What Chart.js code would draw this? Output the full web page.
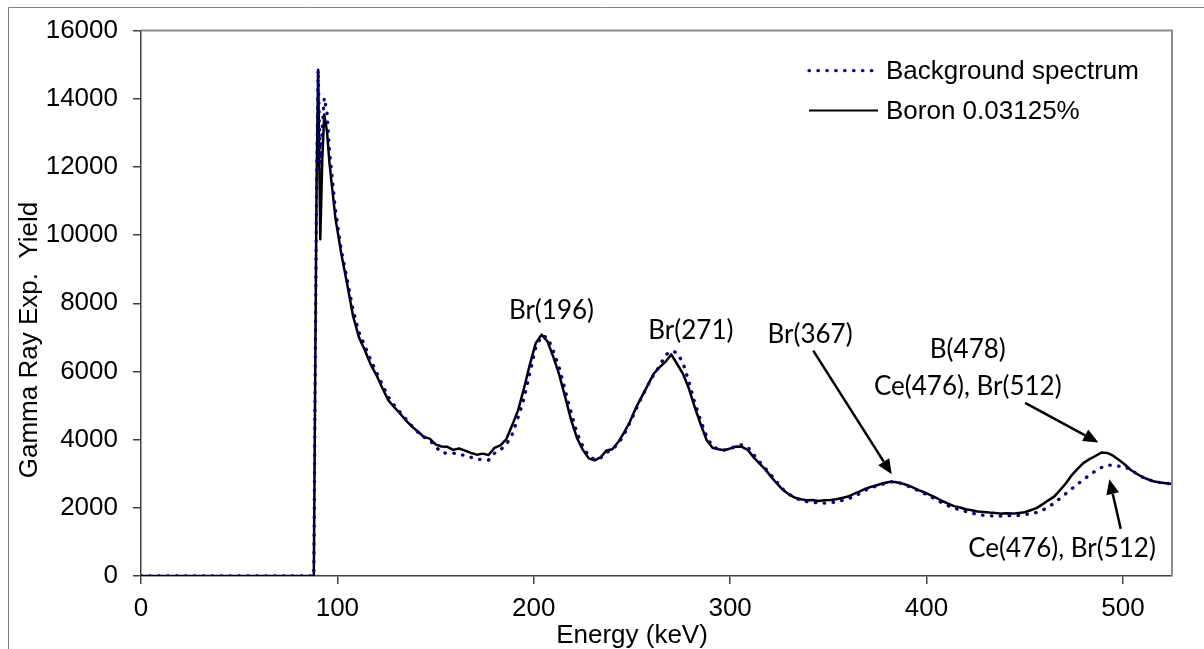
<!DOCTYPE html>
<html>
<head>
<meta charset="utf-8">
<title>Gamma ray spectrum</title>
<script src="https://cdn.jsdelivr.net/npm/chart.js@4.4.1/dist/chart.umd.min.js"></script>
<style>
  html, body { margin: 0; padding: 0; background: #fff; }
  canvas { display: block; }
</style>
</head>
<body>
<canvas id="spectrum" width="1204" height="649"></canvas>
<script>
// energy (keV) of each channel
const energy = [
  0, 20, 40, 60, 80, 88, 88.6, 89.4, 90.2, 91.3, 92.3, 93.3, 94.7,
  96, 99, 102, 105, 108, 111, 114, 117, 120, 123,
  126, 129, 132, 135, 138, 141, 144, 147, 150, 153,
  156, 159, 162, 165, 168, 171, 174, 177, 180, 183,
  186, 189, 192, 195, 198, 201, 204, 207, 210, 213,
  216, 219, 222, 225, 228, 231, 234, 237, 240, 243,
  246, 249, 252, 255, 258, 261, 264, 267, 270, 273,
  276, 279, 282, 285, 288, 291, 294, 297, 300, 303,
  306, 309, 312, 315, 318, 321, 324, 327, 330, 333,
  336, 339, 342, 345, 348, 351, 354, 357, 360, 363,
  366, 369, 372, 375, 378, 381, 384, 387, 390, 393,
  396, 399, 402, 405, 408, 411, 414, 417, 420, 423,
  426, 429, 432, 435, 438, 441, 444, 447, 450, 453,
  456, 459, 462, 465, 468, 471, 474, 477, 480, 483,
  486, 489, 492, 495, 498, 501, 504, 507, 510, 513,
  516, 519, 522, 525
];

const background = [
  0, 0, 0, 0, 0, 0, 5000, 11500, 14850, 12100, 13100, 14030, 13600,
  12450, 10750, 9550, 8700, 7800, 7150, 6750, 6330, 5970, 5600,
  5250, 5010, 4800, 4600, 4400, 4220, 4080, 3980, 3800, 3620,
  3600, 3610, 3560, 3540, 3480, 3420, 3420, 3400, 3600, 3700,
  3850, 4150, 4650, 5200, 5950, 6700, 7050, 7000, 6600, 6100,
  5450, 4800, 4200, 3800, 3520, 3420, 3460, 3620, 3720, 3880,
  4150, 4500, 4880, 5250, 5580, 5900, 6150, 6480, 6600, 6550,
  6250, 5700, 5080, 4560, 4100, 3800, 3720, 3700, 3720, 3830,
  3850, 3780, 3560, 3350, 3150, 2950, 2740, 2540, 2400, 2300,
  2220, 2180, 2160, 2150, 2140, 2150, 2170, 2220, 2260, 2340,
  2420, 2520, 2590, 2650, 2700, 2770, 2760, 2720, 2650, 2580,
  2500, 2420, 2330, 2240, 2140, 2060, 1990, 1940, 1890, 1850,
  1800, 1780, 1770, 1760, 1760, 1770, 1770, 1780, 1800, 1830,
  1860, 1930, 2020, 2140, 2280, 2420, 2560, 2700, 2830, 2960,
  3080, 3180, 3250, 3250, 3220, 3200, 3120, 3000, 2900, 2830,
  2770, 2740, 2720, 2700
];

const boron = [
  0, 0, 0, 0, 0, 0, 5000, 11500, 14850, 9880, 12200, 13540, 13050,
  12100, 10500, 9450, 8560, 7620, 7000, 6620, 6200, 5880, 5500,
  5150, 4950, 4760, 4560, 4380, 4240, 4080, 4030, 3860, 3800,
  3790, 3700, 3740, 3680, 3610, 3560, 3590, 3550, 3760, 3830,
  4010, 4420, 4860, 5500, 6200, 6830, 7080, 6880, 6420, 5900,
  5250, 4580, 4050, 3700, 3450, 3390, 3480, 3680, 3720, 3930,
  4210, 4530, 4930, 5260, 5590, 5930, 6120, 6280, 6500, 6220,
  5930, 5500, 4950, 4450, 3990, 3760, 3720, 3690, 3740, 3800,
  3790, 3700, 3480, 3300, 3120, 2900, 2700, 2520, 2390, 2300,
  2250, 2220, 2230, 2200, 2220, 2230, 2250, 2290, 2330, 2410,
  2480, 2560, 2620, 2670, 2720, 2760, 2760, 2720, 2670, 2600,
  2520, 2450, 2370, 2290, 2200, 2120, 2050, 2010, 1960, 1930,
  1890, 1880, 1860, 1850, 1830, 1840, 1830, 1850, 1870, 1930,
  1990, 2100, 2220, 2330, 2520, 2720, 2960, 3150, 3320, 3430,
  3520, 3620, 3610, 3530, 3400, 3270, 3110, 3000, 2900, 2830,
  2770, 2740, 2720, 2700
];

const xTicks = [0, 100, 200, 300, 400, 500];
const yTicks = [0, 2000, 4000, 6000, 8000, 10000, 12000, 14000, 16000];
const seriesNames = ['Background spectrum', 'Boron 0.03125%'];

// peak labels, anchored in data units (keV, counts)
const notes = [
  { text: 'Br(196)', x: 209, y: 7780 },
  { text: 'Br(271)', x: 280, y: 7195 },
  { text: 'Br(367)', x: 340.7, y: 7078 },
  { text: 'B(478)', x: 421, y: 6640 },
  { text: 'Ce(476), Br(512)', x: 421, y: 5557 },
  { text: 'Ce(476), Br(512)', x: 469, y: 790 }
];
const arrows = [
  { from: [342.3, 6610], to: [382.3, 2983] },
  { from: [450.2, 5077], to: [487.5, 3919] },
  { from: [498.9, 1383], to: [493.1, 2840] }
];

const AXIS = '#404040';
const SANS = 'Liberation Sans, Arial, sans-serif';

function drawArrow(ctx, x1, y1, x2, y2) {
  const a = Math.atan2(y2 - y1, x2 - x1);
  const len = 15, half = 6.5;
  const bx = x2 - len * Math.cos(a), by = y2 - len * Math.sin(a);
  ctx.beginPath();
  ctx.moveTo(x1, y1);
  ctx.lineTo(bx, by);
  ctx.stroke();
  ctx.beginPath();
  ctx.moveTo(x2, y2);
  ctx.lineTo(bx + half * Math.sin(a), by - half * Math.cos(a));
  ctx.lineTo(bx - half * Math.sin(a), by + half * Math.cos(a));
  ctx.closePath();
  ctx.fill();
}

const decorations = {
  id: 'decorations',
  afterDraw(chart) {
    const ctx = chart.ctx;
    const area = chart.chartArea;
    const xs = chart.scales.x, ys = chart.scales.y;
    ctx.save();

    // outer frame (only top and left edges are inside the picture)
    ctx.strokeStyle = '#7f7f7f';
    ctx.lineWidth = 1;
    ctx.beginPath();
    ctx.moveTo(8.5, 649);
    ctx.lineTo(8.5, 7.5);
    ctx.lineTo(1204, 7.5);
    ctx.stroke();

    // plot area frame, top and right
    ctx.strokeStyle = '#8c8c8c';
    ctx.lineWidth = 2;
    ctx.beginPath();
    ctx.moveTo(area.left, area.top);
    ctx.lineTo(area.right, area.top);
    ctx.lineTo(area.right, area.bottom);
    ctx.stroke();

    // axis titles
    ctx.fillStyle = '#000';
    ctx.font = '26px ' + SANS;
    ctx.textAlign = 'center';
    ctx.textBaseline = 'alphabetic';
    ctx.fillText('Energy (keV)', 632, 643);
    ctx.save();
    ctx.translate(37, 340);
    ctx.rotate(-Math.PI / 2);
    ctx.fillText('Gamma Ray Exp.  Yield', 0, 0);
    ctx.restore();

    // legend
    const lx = area.left + 668;
    ctx.textAlign = 'left';
    ctx.fillText(seriesNames[0], lx + 77, area.top + 48);
    ctx.fillText(seriesNames[1], lx + 77, area.top + 88);
    ctx.strokeStyle = '#000080';
    ctx.lineWidth = 3.3;
    ctx.lineCap = 'round';
    ctx.setLineDash([0.5, 8.4]);
    ctx.beginPath();
    ctx.moveTo(lx, area.top + 40);
    ctx.lineTo(lx + 66, area.top + 40);
    ctx.stroke();
    ctx.setLineDash([]);
    ctx.lineCap = 'butt';
    ctx.strokeStyle = '#000';
    ctx.lineWidth = 2;
    ctx.beginPath();
    ctx.moveTo(lx, area.top + 80);
    ctx.lineTo(lx + 69, area.top + 80);
    ctx.stroke();

    // peak labels and arrows
    ctx.font = '26px Lato, sans-serif';
    ctx.textAlign = 'center';
    ctx.textBaseline = 'middle';
    notes.forEach(n => {
      ctx.fillText(n.text, xs.getPixelForValue(n.x), ys.getPixelForValue(n.y));
    });
    ctx.fillStyle = '#000';
    ctx.strokeStyle = '#000';
    ctx.lineWidth = 2.5;
    arrows.forEach(a => {
      drawArrow(ctx,
        xs.getPixelForValue(a.from[0]), ys.getPixelForValue(a.from[1]),
        xs.getPixelForValue(a.to[0]), ys.getPixelForValue(a.to[1]));
    });
    ctx.restore();
  }
};

new Chart(document.getElementById('spectrum'), {
  type: 'line',
  data: {
    datasets: [{
      label: seriesNames[0],
      data: energy.map((e, i) => ({ x: e, y: background[i] })),
      borderColor: '#000080',
      borderWidth: 3.3,
      borderDash: [0.5, 8.4],
      borderCapStyle: 'round',
      pointRadius: 0,
      tension: 0
    }, {
      label: seriesNames[1],
      data: energy.map((e, i) => ({ x: e, y: boron[i] })),
      borderColor: '#000',
      borderWidth: 2.5,
      borderJoinStyle: 'round',
      pointRadius: 0,
      tension: 0
    }]
  },
  options: {
    responsive: false,
    animation: false,
    devicePixelRatio: 1,
    layout: { padding: { top: 29, right: 32, left: 0, bottom: 0 } },
    plugins: {
      legend: { display: false },
      tooltip: { enabled: false }
    },
    scales: {
      x: {
        type: 'linear',
        min: 0,
        max: 525,
        afterBuildTicks: s => { s.ticks = xTicks.map(v => ({ value: v })); },
        afterFit: s => { s.height = 73; },
        ticks: {
          color: '#000',
          padding: 9,
          maxRotation: 0,
          font: { family: SANS, size: 26 },
          callback: v => String(v)
        },
        grid: { drawOnChartArea: false, tickLength: 8, color: AXIS, lineWidth: 1.5 },
        border: { color: AXIS, width: 1.5 }
      },
      y: {
        min: 0,
        max: 16000,
        afterBuildTicks: s => { s.ticks = yTicks.map(v => ({ value: v })); },
        afterFit: s => { s.width = 141; },
        ticks: {
          color: '#000',
          padding: 15,
          font: { family: SANS, size: 26 },
          callback: v => String(v)
        },
        grid: { drawOnChartArea: false, tickLength: 8, color: AXIS, lineWidth: 1.5 },
        border: { color: AXIS, width: 1.5 }
      }
    }
  },
  plugins: [decorations]
});
</script>
</body>
</html>
